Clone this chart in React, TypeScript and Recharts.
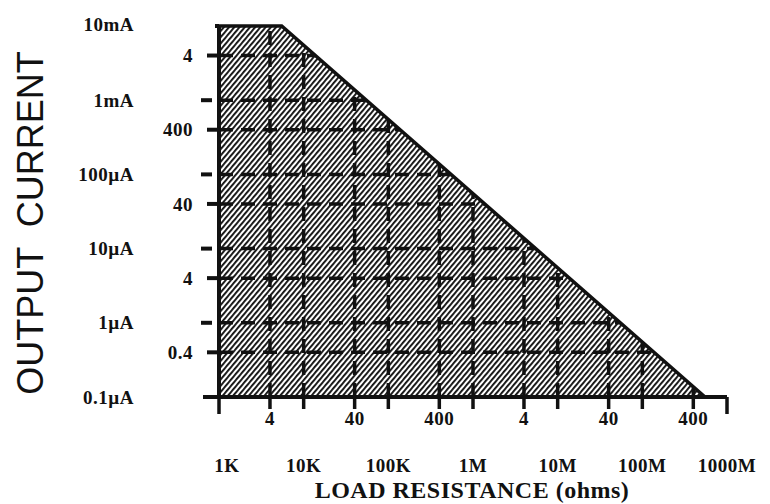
import { ComposedChart, Area, XAxis, YAxis, ReferenceLine } from "recharts";

// boundary of the safe operating region (load resistance vs. max output current)
const loadOhms = [1e3, 5.5e3, 5.5e8];
const maxCurrent = [1e-2, 1e-2, 1e-7];

const xTicks = [1e3, 4e3, 1e4, 4e4, 1e5, 4e5, 1e6, 4e6, 1e7, 4e7, 1e8, 4e8, 1e9];
const xTickLabels = ["1K", "4", "10K", "40", "100K", "400", "1M", "4", "10M", "40", "100M", "400", "1000M"];

const yTicks = [1e-7, 4e-7, 1e-6, 4e-6, 1e-5, 4e-5, 1e-4, 4e-4, 1e-3, 4e-3, 1e-2];
const yTickLabels = ["0.1\u00b5A", "0.4", "1\u00b5A", "4", "10\u00b5A", "40", "100\u00b5A", "400", "1mA", "4", "10mA"];

const hGrid = [4e-3, 1e-3, 4e-4, 1e-4, 4e-5, 1e-5, 4e-6, 1e-6, 4e-7];
const vGrid = [4e3, 1e4, 4e4, 1e5, 4e5, 1e6, 4e6, 1e7, 4e7, 1e8, 4e8];

const data = loadOhms.map((r, k) => ({ r, i: maxCurrent[k] }));

const INK = "#111";
const SERIF = "'Liberation Serif', 'Times New Roman', serif";
const AXIS_X = 219;
const AXIS_Y = 397;

const lg = Math.log10;
const isDecade = (v: number) => Math.abs(lg(v) - Math.round(lg(v))) < 1e-9;

// resistance where the boundary reaches a given current
function edgeR(cur: number) {
  for (let k = 0; k < loadOhms.length - 1; k++) {
    const a = maxCurrent[k];
    const b = maxCurrent[k + 1];
    if (a !== b && cur <= a && cur >= b) {
      const t = (lg(a) - lg(cur)) / (lg(a) - lg(b));
      return 10 ** (lg(loadOhms[k]) + t * (lg(loadOhms[k + 1]) - lg(loadOhms[k])));
    }
  }
  return loadOhms[0];
}

// current on the boundary at a given resistance
function edgeI(r: number) {
  for (let k = 0; k < loadOhms.length - 1; k++) {
    const a = loadOhms[k];
    const b = loadOhms[k + 1];
    if (r >= a && r <= b) {
      const t = (lg(r) - lg(a)) / (lg(b) - lg(a));
      return 10 ** (lg(maxCurrent[k]) + t * (lg(maxCurrent[k + 1]) - lg(maxCurrent[k])));
    }
  }
  return maxCurrent[maxCurrent.length - 1];
}

function YTick(props: any) {
  const { y, payload } = props;
  const v = payload.value;
  const label = yTickLabels[yTicks.indexOf(v)];
  const dec = isDecade(v);
  const end = v === yTicks[0] || v === yTicks[yTicks.length - 1];
  return (
    <g>
      {end ? (
        <line x1={v === yTicks[0] ? 203 : 215} x2={AXIS_X} y1={y} y2={y} stroke={INK} strokeWidth={4} />
      ) : dec ? (
        <line x1={201} x2={212} y1={y} y2={y} stroke={INK} strokeWidth={4} />
      ) : (
        <line x1={207} x2={AXIS_X} y1={y} y2={y} stroke={INK} strokeWidth={4} />
      )}
      <text
        x={dec ? 134 : 193}
        y={v === yTicks[yTicks.length - 1] ? y - 2 : y}
        dy="0.35em"
        textAnchor="end"
        fontFamily={SERIF}
        fontWeight="bold"
        fontSize={19}
        letterSpacing={0.5}
        fill={INK}
      >
        {label}
      </text>
    </g>
  );
}

function XTick(props: any) {
  const { x, payload } = props;
  const v = payload.value;
  const label = xTickLabels[xTicks.indexOf(v)];
  const dec = isDecade(v);
  const end = v === xTicks[0] || v === xTicks[xTicks.length - 1];
  return (
    <g>
      <line x1={x} x2={x} y1={AXIS_Y} y2={end ? 414 : 409} stroke={INK} strokeWidth={3.5} />
      <text
        x={x + (v === xTicks[0] ? 8 : 0)}
        y={dec ? 472 : 425}
        textAnchor="middle"
        fontFamily={SERIF}
        fontWeight="bold"
        fontSize={19}
        letterSpacing={0.5}
        fill={INK}
      >
        {label}
      </text>
    </g>
  );
}

const dash = { stroke: INK, strokeWidth: 3.5, strokeDasharray: "14 8" };

export default function App() {
  return (
    <div style={{ position: "absolute", left: 0, top: 0, width: 770, height: 504, background: "#fff" }}>
      <ComposedChart
        width={770}
        height={504}
        data={data}
        margin={{ top: 26, right: 43, bottom: 0, left: 0 }}
      >
        <defs>
          <pattern id="hatch" width="4" height="10" patternUnits="userSpaceOnUse" patternTransform="rotate(40)">
            <rect x="0" y="0" width="1.9" height="10" fill={INK} />
          </pattern>
        </defs>
        <XAxis
          dataKey="r"
          type="number"
          scale="log"
          domain={[1e3, 1e9]}
          ticks={xTicks}
          interval={0}
          height={107}
          axisLine={{ stroke: INK, strokeWidth: 4 }}
          tickLine={false}
          tick={<XTick />}
        />
        <YAxis
          dataKey="i"
          type="number"
          scale="log"
          domain={[1e-7, 1e-2]}
          ticks={yTicks}
          interval={0}
          width={219}
          axisLine={{ stroke: INK, strokeWidth: 4 }}
          tickLine={false}
          tick={<YTick />}
        />
        <Area
          type="linear"
          dataKey="i"
          baseValue={1e-7}
          fill="url(#hatch)"
          fillOpacity={1}
          stroke={INK}
          strokeWidth={3.5}
          isAnimationActive={false}
          dot={false}
          activeDot={false}
        />
        {hGrid.map((v) => (
          <ReferenceLine
            key={"h" + v}
            segment={[{ x: loadOhms[0], y: v }, { x: edgeR(v), y: v }]}
            {...dash}
          />
        ))}
        {vGrid.map((r) => (
          <ReferenceLine
            key={"v" + r}
            segment={[{ x: r, y: maxCurrent[maxCurrent.length - 1] }, { x: r, y: edgeI(r) }]}
            {...dash}
          />
        ))}
        <text
          x={43}
          y={223}
          transform="rotate(-90, 43, 223)"
          textAnchor="middle"
          fontFamily="'Liberation Sans', Arial, sans-serif"
          fontSize={36}
          fill={INK}
          style={{ whiteSpace: "pre" }}
        >
          {"OUTPUT  CURRENT"}
        </text>
        <text
          x={472}
          y={498}
          textAnchor="middle"
          fontFamily={SERIF}
          fontWeight="bold"
          fontSize={24}
          letterSpacing={0.5}
          fill={INK}
        >
          LOAD RESISTANCE (ohms)
        </text>
      </ComposedChart>
    </div>
  );
}
